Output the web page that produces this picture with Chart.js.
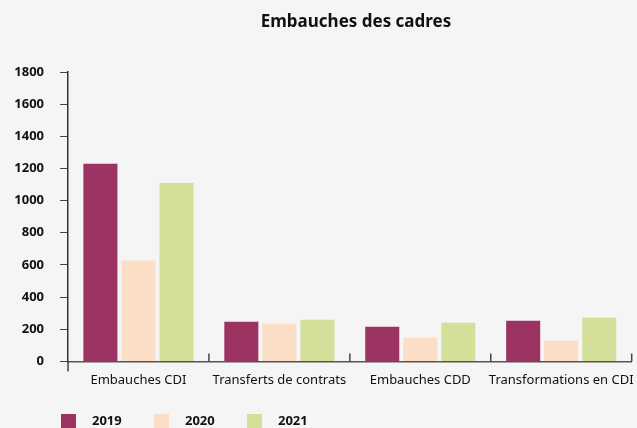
<!DOCTYPE html>
<html>
<head>
<meta charset="utf-8">
<script src="https://cdn.jsdelivr.net/npm/chart.js@4/dist/chart.umd.min.js"></script>
<style>
  html, body { margin: 0; padding: 0; background: #f5f5f5; overflow: hidden; }
  canvas { display: block; }
</style>
</head>
<body>
<canvas id="myChart" width="637" height="428"></canvas>
<script>
var titleText = 'Embauches des cadres';
var categories = ['Embauches CDI', 'Transferts de contrats', 'Embauches CDD', 'Transformations en CDI'];
var years = ['2019', '2020', '2021'];
var values2019 = [1230, 247, 216, 253];
var values2020 = [628, 234, 147, 128];
var values2021 = [1110, 259, 241, 272];
var colors = ['#9b3462', '#fcdec6', '#d3e09a'];

var FONT = "'Noto Sans', sans-serif";

// tick marks between categories, y axis running below zero, title and legend
var extras = {
    id: 'extras',
    afterDraw: function (chart) {
        var ctx = chart.ctx;
        var area = chart.chartArea;
        var x = chart.scales.x;
        ctx.save();
        ctx.strokeStyle = '#444';
        ctx.lineWidth = 1.5;
        ctx.beginPath();
        ctx.moveTo(area.left, area.bottom);
        ctx.lineTo(area.left, area.bottom + 10);
        for (var i = 1; i <= categories.length; i++) {
            var px = x.getPixelForValue(i - 0.5);
            ctx.moveTo(px, area.bottom - 8);
            ctx.lineTo(px, area.bottom);
        }
        ctx.stroke();

        ctx.fillStyle = '#111';
        ctx.font = 'bold 17px ' + FONT;
        ctx.textAlign = 'center';
        ctx.textBaseline = 'middle';
        ctx.fillText(titleText, 356, 22);

        ctx.font = 'bold 13px ' + FONT;
        ctx.textAlign = 'left';
        chart.data.datasets.forEach(function (ds, k) {
            var lx = 61 + k * 93;
            ctx.fillStyle = ds.backgroundColor;
            ctx.fillRect(lx, 414, 15, 15);
            ctx.fillStyle = '#111';
            ctx.fillText(ds.label, lx + 31, 421);
        });
        ctx.restore();
    }
};

var ctx = document.getElementById('myChart').getContext('2d');
var myChart = new Chart(ctx, {
    type: 'bar',
    data: {
        labels: categories,
        datasets: [
            { label: years[0], data: values2019, backgroundColor: colors[0] },
            { label: years[1], data: values2020, backgroundColor: colors[1] },
            { label: years[2], data: values2021, backgroundColor: colors[2] }
        ]
    },
    options: {
        responsive: false,
        animation: false,
        layout: { padding: { top: 72, left: 13, right: 3, bottom: 37 } },
        datasets: { bar: { categoryPercentage: 0.81, barPercentage: 0.895 } },
        plugins: {
            legend: { display: false },
            title: { display: false },
            tooltip: { enabled: false }
        },
        scales: {
            x: {
                grid: { display: false },
                border: { display: true, color: '#555', width: 1.5 },
                ticks: {
                    color: '#111',
                    font: { family: FONT, size: 13 },
                    padding: 3,
                    maxRotation: 0,
                    autoSkip: false
                }
            },
            y: {
                min: 0,
                max: 1800,
                afterFit: function (scale) { scale.width = 55; },
                grid: { drawOnChartArea: false, drawTicks: true, tickLength: 8, color: '#444', lineWidth: 1 },
                border: { display: true, color: '#333', width: 1.5 },
                ticks: {
                    stepSize: 200,
                    color: '#111',
                    padding: 16,
                    font: { family: FONT, size: 13, weight: 'bold' },
                    callback: function (v) { return String(v); }
                }
            }
        }
    },
    plugins: [extras]
});
</script>
</body>
</html>
